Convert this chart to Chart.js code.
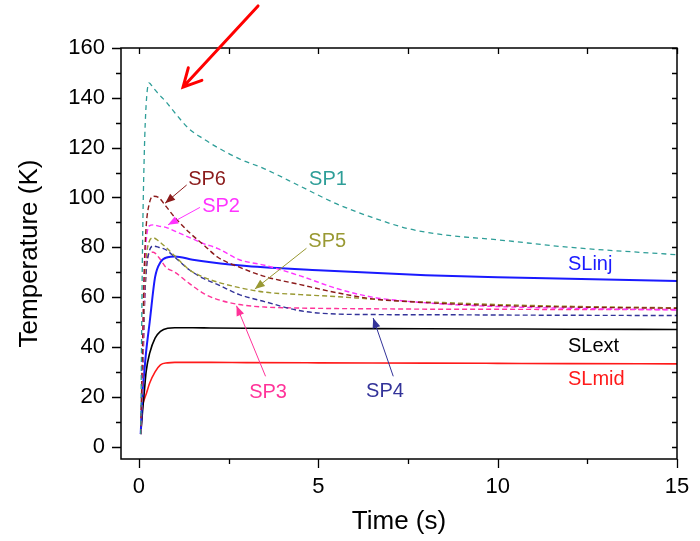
<!DOCTYPE html>
<html>
<head>
<meta charset="utf-8">
<script src="https://cdn.jsdelivr.net/npm/chart.js@4.4.0/dist/chart.umd.min.js"></script>
<style>
  html, body { margin: 0; padding: 0; background: #fff; }
</style>
</head>
<body>
<canvas id="grafico" width="700" height="541"></canvas>
<script>
// tempi comuni per le curve SP (tratteggiate)
var spTime = [0.05, 0.1, 0.15, 0.2, 0.28, 0.4, 0.55, 0.75, 1.0, 1.4, 1.8, 2.2, 2.8, 3.5, 4.5, 5.5, 6.5, 7.5, 8.5, 10, 12, 15];
var sp1 = [5, 80, 118, 137, 146, 144, 141.5, 138.5, 134, 127.5, 123.5, 120, 115.5, 111.5, 104.5, 97.5, 92, 87.5, 85, 83, 80, 77];
var sp6 = [5, 40, 72, 88, 97, 100.5, 100, 96.5, 92, 86, 81, 76, 72, 68.3, 65, 61.8, 59.3, 58.2, 57.4, 56.6, 56, 55.5];
var sp2 = [5, 35, 68, 82, 88.5, 89, 88.5, 88, 86.5, 84, 81.5, 79.5, 75, 72.8, 68.5, 63.5, 60, 58.3, 57.2, 56.2, 55.5, 54.8];
var sp5 = [5, 30, 60, 75, 82, 83.8, 82.5, 80, 76.5, 71, 68, 66, 63.8, 62, 61, 60.2, 59.2, 58.3, 57.8, 57, 56.3, 55.7];
var sp4 = [5, 25, 55, 70, 78, 80.5, 80, 79, 76, 71, 67.5, 65, 61, 58.2, 54.5, 53.2, 53, 52.9, 52.9, 52.8, 52.7, 52.6];
var sp3 = [5, 25, 55, 70, 77.5, 78, 76, 72, 70, 65.5, 61.5, 59, 57, 56, 55.6, 55.4, 55.3, 55.2, 55.1, 55.1, 55, 55];

// tempi per le curve SL (continue)
var slTime = [0.05, 0.1, 0.15, 0.2, 0.3, 0.45, 0.6, 0.8, 1.0, 1.5, 2, 3, 5, 8, 10, 12, 15];
var slInj = [5, 22, 30, 38, 50, 68, 74, 76, 76.3, 75, 74, 72.5, 70.8, 68.8, 68, 67.4, 66.5];
var slExt = [5, 14, 22, 30, 37.5, 43.5, 46.2, 47.5, 47.7, 47.7, 47.6, 47.5, 47.4, 47.3, 47.2, 47.1, 47];
var slMid = [5, 16, 19, 21, 25.5, 30, 32.8, 33.6, 33.8, 33.8, 33.8, 33.7, 33.6, 33.5, 33.4, 33.3, 33.2];

// tick degli assi
var xTicks = [0, 5, 10, 15];
var xMinorTicks = [2.5, 7.5, 12.5];
var yTicks = [0, 20, 40, 60, 80, 100, 120, 140, 160];
var yMinorTicks = [10, 30, 50, 70, 90, 110, 130, 150];

// etichette sul grafico (coordinate nei dati)
var labelTexts = ['SP1', 'SP6', 'SP2', 'SP5', 'SP3', 'SP4', 'SLinj', 'SLext', 'SLmid'];
var labelX = [5.27, 1.90, 2.29, 5.25, 3.60, 6.86, 11.96, 11.96, 11.96];
var labelY = [107.4, 107.4, 96.2, 82.5, 21.9, 22.3, 72.9, 40, 27];
var labelAlign = ['center', 'center', 'center', 'center', 'center', 'center', 'left', 'left', 'left'];
var labelColors = ['#2e9e98', '#8b1a1a', '#ff33ff', '#999933', '#ff3399', '#333399', '#1a1aff', '#000000', '#ff1a1a'];

// frecce delle etichette: [x0, y0, x1, y1] punta in x1,y1
var arrowLines = [
  [1.33, 105, 0.73, 97.7],
  [1.70, 96, 0.81, 89],
  [4.67, 79.6, 3.23, 63.2],
  [3.53, 28.2, 2.72, 56.5],
  [7.09, 28.2, 6.53, 51.6]
];
var arrowColors = ['#8b1a1a', '#ff33ff', '#999933', '#ff3399', '#333399'];
var redArrow = [3.32, 176.9, 1.23, 144.3];

function punti(tempi, valori) {
  var out = [];
  for (var i = 0; i < tempi.length; i++) {
    out.push({x: tempi[i], y: valori[i]});
  }
  return out;
}

function serie(nome, tempi, valori, colore, dash, spessore) {
  return {
    label: nome,
    data: punti(tempi, valori),
    borderColor: colore,
    backgroundColor: colore,
    borderWidth: spessore,
    borderDash: dash,
    pointRadius: 0,
    fill: false,
    cubicInterpolationMode: 'monotone'
  };
}

function punta(ctx, x0, y0, x1, y1, lung, larg) {
  var ang = Math.atan2(y1 - y0, x1 - x0);
  ctx.beginPath();
  ctx.moveTo(x1, y1);
  ctx.lineTo(x1 - lung * Math.cos(ang) + larg * Math.sin(ang), y1 - lung * Math.sin(ang) - larg * Math.cos(ang));
  ctx.lineTo(x1 - lung * Math.cos(ang) - larg * Math.sin(ang), y1 - lung * Math.sin(ang) + larg * Math.cos(ang));
  ctx.closePath();
  ctx.fill();
}

var decorazioni = {
  id: 'decorazioni',
  afterDraw: function(chart) {
    var ctx = chart.ctx;
    var a = chart.chartArea;
    var sx = chart.scales.x;
    var sy = chart.scales.y;
    ctx.save();

    // cornice
    ctx.strokeStyle = '#000';
    ctx.lineWidth = 1.5;
    ctx.strokeRect(a.left, a.top, a.right - a.left, a.bottom - a.top);

    // tick
    ctx.lineWidth = 1.3;
    ctx.beginPath();
    yTicks.concat(yMinorTicks).forEach(function(v) {
      var py = Math.round(sy.getPixelForValue(v)) + 0.5;
      var len = yTicks.indexOf(v) >= 0 ? 9 : 5;
      ctx.moveTo(a.left, py); ctx.lineTo(a.left - len, py);
      ctx.moveTo(a.right, py); ctx.lineTo(a.right - 5, py);
    });
    xTicks.concat(xMinorTicks).forEach(function(v) {
      var px = Math.round(sx.getPixelForValue(v)) + 0.5;
      var len = xTicks.indexOf(v) >= 0 ? 9 : 5;
      ctx.moveTo(px, a.bottom); ctx.lineTo(px, a.bottom + len);
      ctx.moveTo(px, a.top); ctx.lineTo(px, a.top + 6);
    });
    ctx.stroke();

    // etichette
    ctx.font = '20px "Liberation Sans", Arial, sans-serif';
    ctx.textBaseline = 'middle';
    for (var i = 0; i < labelTexts.length; i++) {
      ctx.fillStyle = labelColors[i];
      ctx.textAlign = labelAlign[i];
      ctx.fillText(labelTexts[i], sx.getPixelForValue(labelX[i]), sy.getPixelForValue(labelY[i]));
    }

    // frecce sottili
    ctx.lineWidth = 1;
    for (var j = 0; j < arrowLines.length; j++) {
      var f = arrowLines[j];
      var x0 = sx.getPixelForValue(f[0]), y0 = sy.getPixelForValue(f[1]);
      var x1 = sx.getPixelForValue(f[2]), y1 = sy.getPixelForValue(f[3]);
      ctx.strokeStyle = arrowColors[j];
      ctx.fillStyle = arrowColors[j];
      ctx.beginPath();
      ctx.moveTo(x0, y0); ctx.lineTo(x1, y1);
      ctx.stroke();
      punta(ctx, x0, y0, x1, y1, 10, 4);
    }

    // freccia rossa grande
    var rx0 = sx.getPixelForValue(redArrow[0]), ry0 = sy.getPixelForValue(redArrow[1]);
    var rx1 = sx.getPixelForValue(redArrow[2]), ry1 = sy.getPixelForValue(redArrow[3]);
    var ang = Math.atan2(ry0 - ry1, rx0 - rx1);
    var w = 27.5 * Math.PI / 180;
    ctx.strokeStyle = '#ff0000';
    ctx.lineWidth = 3;
    ctx.lineCap = 'round';
    ctx.beginPath();
    ctx.moveTo(rx0, ry0); ctx.lineTo(rx1, ry1);
    ctx.moveTo(rx1 + 20 * Math.cos(ang + w), ry1 + 20 * Math.sin(ang + w));
    ctx.lineTo(rx1, ry1);
    ctx.lineTo(rx1 + 20 * Math.cos(ang - w), ry1 + 20 * Math.sin(ang - w));
    ctx.stroke();

    ctx.restore();
  }
};

var fontAssi = {family: '"Liberation Sans", Arial, sans-serif', size: 22};
var fontTitoli = {family: '"Liberation Sans", Arial, sans-serif', size: 26};

var chart = new Chart(document.getElementById('grafico'), {
  type: 'line',
  data: {
    datasets: [
      serie('SP1', spTime, sp1, '#2e9e98', [5, 4], 1.3),
      serie('SP6', spTime, sp6, '#8b1a1a', [5, 3], 1.4),
      serie('SP2', spTime, sp2, '#ff33ff', [5, 3], 1.4),
      serie('SP5', spTime, sp5, '#999933', [5, 3], 1.4),
      serie('SP4', spTime, sp4, '#333399', [5, 3], 1.4),
      serie('SP3', spTime, sp3, '#ff3399', [5, 3], 1.4),
      serie('SLinj', slTime, slInj, '#1a1aff', [], 2),
      serie('SLext', slTime, slExt, '#000000', [], 1.6),
      serie('SLmid', slTime, slMid, '#ff1a1a', [], 1.6)
    ]
  },
  plugins: [decorazioni],
  options: {
    responsive: false,
    animation: false,
    layout: {padding: {top: 48, right: 23, left: 0, bottom: 0}},
    plugins: {legend: {display: false}, tooltip: {enabled: false}},
    scales: {
      x: {
        type: 'linear',
        min: -0.5,
        max: 15,
        afterBuildTicks: function(s) { s.ticks = xTicks.map(function(v) { return {value: v}; }); },
        afterFit: function(s) { s.height = 82; s.paddingLeft = 0; s.paddingRight = 0; },
        grid: {display: false, drawTicks: false},
        border: {display: false},
        ticks: {color: '#000', font: fontAssi, padding: 15, maxRotation: 0},
        title: {display: true, text: 'Time (s)', color: '#000', font: fontTitoli, padding: {top: 0, bottom: 4}}
      },
      y: {
        min: -5,
        max: 160,
        afterBuildTicks: function(s) { s.ticks = yTicks.map(function(v) { return {value: v}; }); },
        afterFit: function(s) { s.width = 121; s.paddingTop = 0; s.paddingBottom = 0; },
        grid: {display: false, drawTicks: false},
        border: {display: false},
        ticks: {color: '#000', font: fontAssi, padding: 16},
        title: {display: true, text: 'Temperature (K)', color: '#000', font: fontTitoli, padding: {top: 14, bottom: 0}}
      }
    }
  }
});
</script>
</body>
</html>
